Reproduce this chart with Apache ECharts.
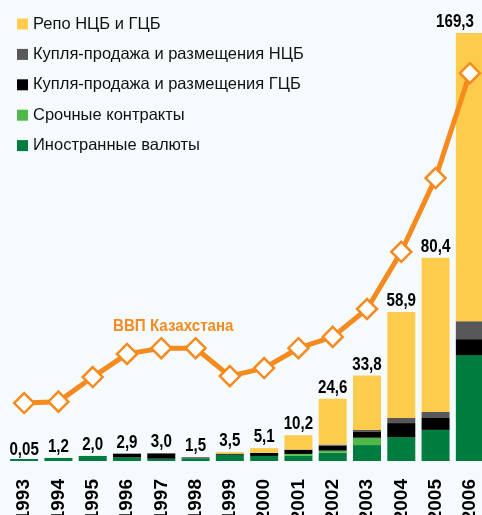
<!DOCTYPE html>
<html>
<head>
<meta charset="utf-8">
<script src="https://cdn.jsdelivr.net/npm/echarts@6/dist/echarts.min.js"></script>
<style>
  html, body { margin: 0; padding: 0; background: #f5fafd; }
  #chart { width: 482px; height: 515px; }
</style>
</head>
<body>
<div id="chart"></div>
<script>
var chart = echarts.init(document.getElementById('chart'));

// values
var years = ['1993', '1994', '1995', '1996', '1997', '1998', '1999', '2000', '2001', '2002', '2003', '2004', '2005', '2006'];
var fx      = [0.05, 1.2, 2.0, 1.4, 0.9, 1.1, 2.5, 2.0, 2.1, 3.3, 6.3, 9.5, 12.3, 41.9];
var futures = [0, 0, 0, 0, 0, 0, 0, 0, 0.7, 0.8, 2.9, 0, 0, 0];
var govSec  = [0, 0, 0, 1.5, 2.1, 0, 0.4, 1.2, 1.7, 2.0, 2.3, 5.5, 4.7, 6.3];
var nonGov  = [0, 0, 0, 0, 0, 0.4, 0, 0, 0, 0.4, 0.8, 2.0, 2.4, 7.1];
var repo    = [0, 0, 0, 0, 0, 0, 0.6, 1.9, 5.7, 18.1, 21.5, 41.9, 61.0, 114.0];
var totals  = [0.05, 1.2, 2.0, 2.9, 3.0, 1.5, 3.5, 5.1, 10.2, 24.6, 33.8, 58.9, 80.4, 169.3];
var gdp     = [11.2, 11.5, 16.7, 21.6, 22.8, 22.8, 16.9, 18.6, 22.8, 25.2, 31.1, 43.2, 58.8, 81.0];

var names = ['Иностранные валюты', 'Срочные контракты', 'Купля-продажа и размещения ГЦБ', 'Купля-продажа и размещения НЦБ', 'Репо НЦБ и ГЦБ'];
var colors = ['#007c3e', '#50b848', '#000000', '#58585a', '#fecc4c'];
var stacks = [fx, futures, govSec, nonGov, repo];

var font = '"Liberation Sans", Arial, sans-serif';
var orange = '#f58a1f';

function fmt(v) {
    return (v < 0.1 ? v.toFixed(2) : v.toFixed(1)).replace('.', ',');
}

var series = stacks.map(function (d, i) {
    return {
        name: names[i],
        type: 'bar',
        stack: 'total',
        barWidth: 28,
        barMinHeight: i === 0 ? 2 : 0,
        itemStyle: { color: colors[i] },
        data: d
    };
});

// totals above the bars, squeezed to look like a condensed face
series.push({
    type: 'custom',
    silent: true,
    z: 5,
    data: totals.map(function (v, i) { return [i, v]; }),
    renderItem: function (params, api) {
        var pt = api.coord([api.value(0), api.value(1)]);
        // keep the last label inside the picture
        var x = Math.min(pt[0], api.getWidth() - 27);
        return {
            type: 'text',
            x: x,
            y: pt[1] - 2,
            scaleX: 0.84,
            style: {
                text: fmt(api.value(1)),
                font: 'bold 18px ' + font,
                fill: '#000',
                align: 'center',
                verticalAlign: 'bottom'
            }
        };
    }
});

series.push({
    name: 'ВВП Казахстана',
    type: 'line',
    yAxisIndex: 1,
    z: 10,
    symbol: 'diamond',
    symbolSize: 20,
    lineStyle: { color: orange, width: 5 },
    itemStyle: { color: '#ffffff', borderColor: orange, borderWidth: 2.5 },
    data: gdp
});

var option = {
    backgroundColor: '#f5fafd',
    animation: false,
    grid: { left: 7, width: 480, top: 33, bottom: 54, containLabel: false, outerBoundsMode: 'none' },
    legend: {
        orient: 'vertical',
        left: 12,
        top: 9,
        itemWidth: 11,
        itemHeight: 11,
        itemGap: 10.4,
        icon: 'rect',
        data: names.slice().reverse(),
        textStyle: { fontFamily: font, fontSize: 16.5, color: '#111', lineHeight: 20 }
    },
    xAxis: {
        type: 'category',
        data: years,
        axisLine: { show: false },
        axisTick: { show: false },
        axisLabel: {
            rotate: 90,
            margin: 18,
            color: '#000',
            fontFamily: font,
            fontWeight: 'bold',
            fontSize: 19
        }
    },
    yAxis: [
        { type: 'value', min: 0, max: 169.3, show: false },
        { type: 'value', min: -1.06, max: 89.5, show: false }
    ],
    graphic: [{
        type: 'text',
        x: 113,
        y: 318,
        scaleX: 0.89,
        style: {
            text: 'ВВП Казахстана',
            fill: orange,
            font: 'bold 17px ' + font
        }
    }],
    series: series
};

chart.setOption(option);
window.onresize = chart.resize;
</script>
</body>
</html>
